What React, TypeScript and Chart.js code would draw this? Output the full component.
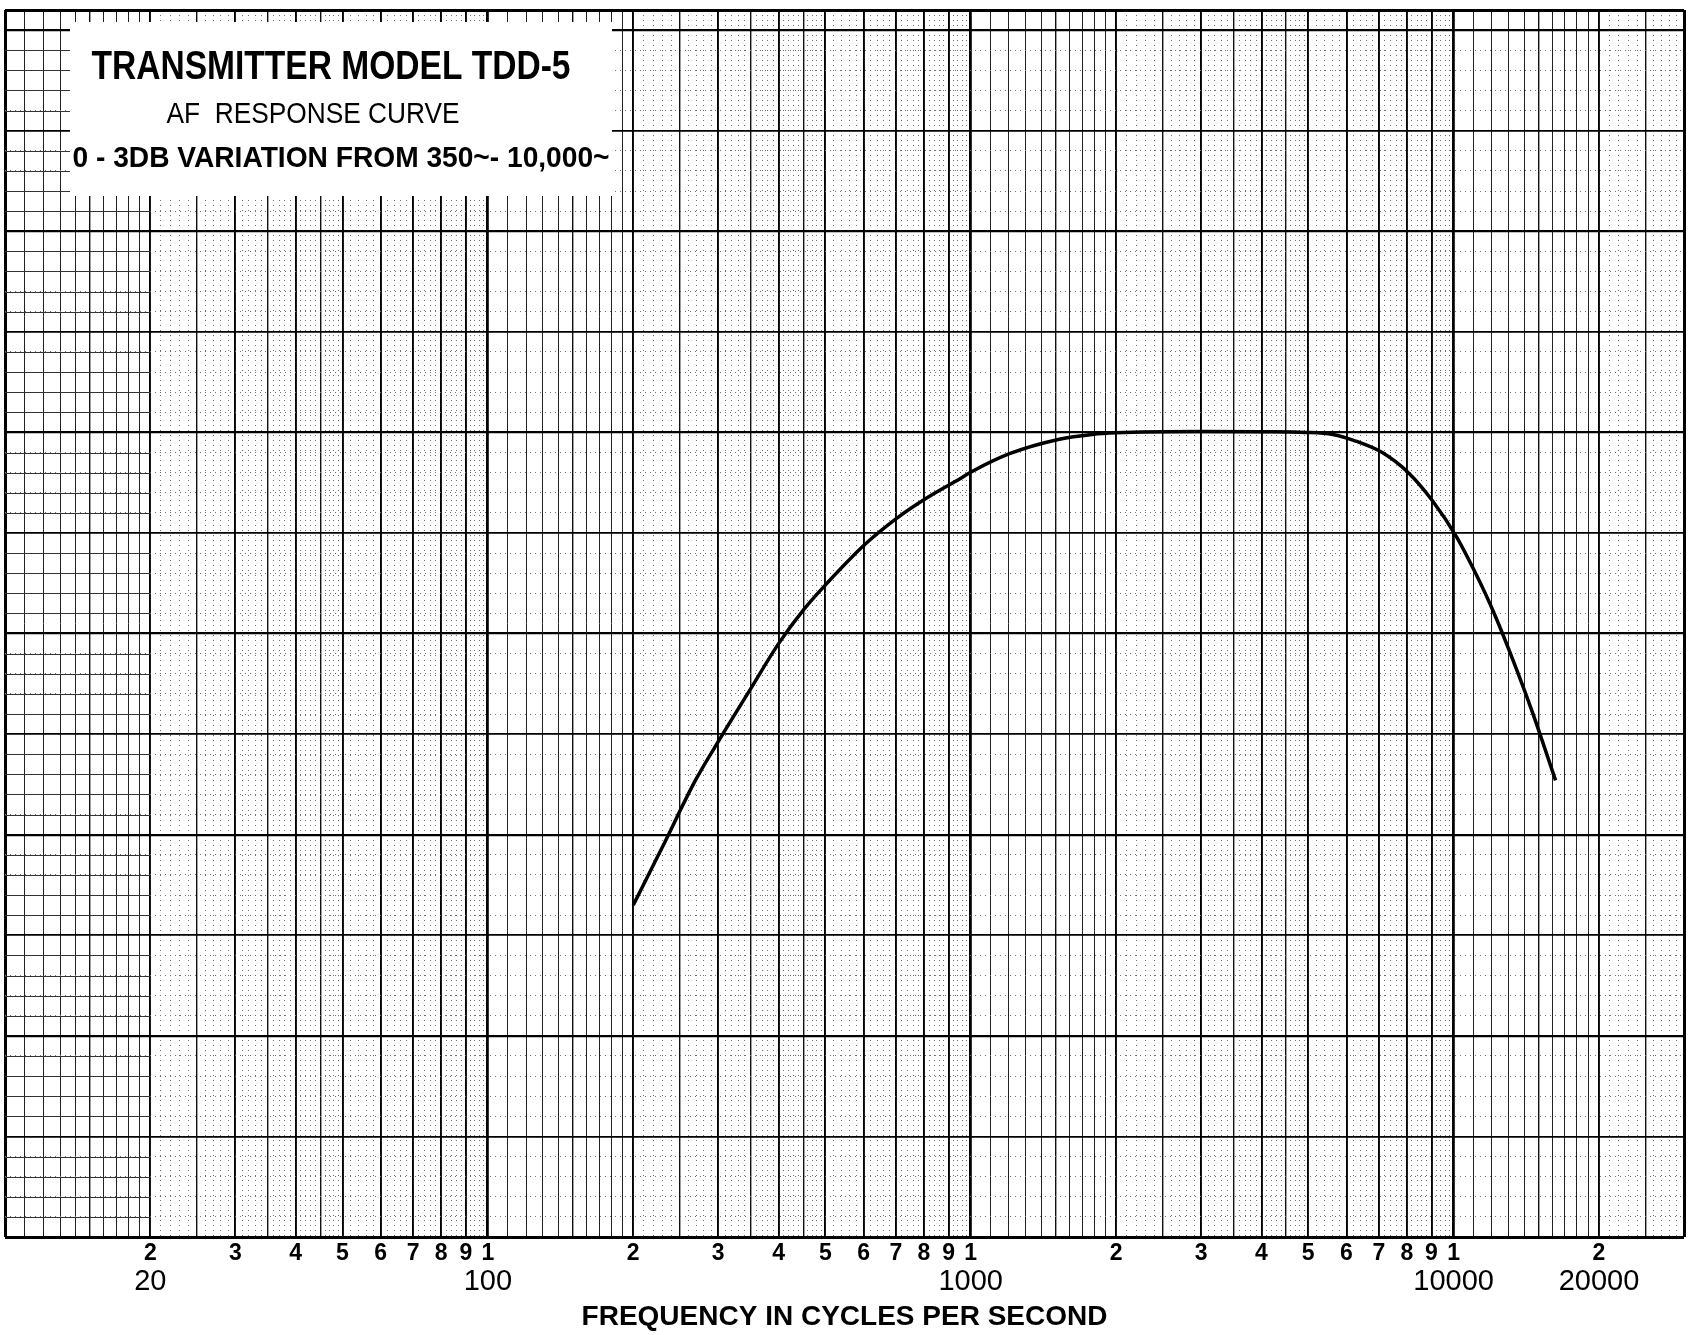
import React, { useEffect, useRef } from 'react';
import { Chart, registerables } from 'chart.js';

Chart.register(...registerables);

// ---- data (relative level in chart divisions) ----
const frequencyHz = [
  200, 230, 269, 303, 349, 400, 453, 506, 605, 709, 812, 950, 1000, 1203, 1526, 1784,
  2000, 3000, 4000, 4955, 5623, 6270, 7115, 8050, 9056, 10140, 11145, 12135, 13525, 14650, 16260,
];
const responseLevel = [
  -23.5, -20.6, -17.3, -15.2, -12.8, -10.5, -8.75, -7.45, -5.55, -4.2, -3.25, -2.3, -1.98, -1.06, -0.34, -0.1,
  -0.02, 0.04, 0.03, 0.0, -0.1, -0.43, -1.0, -1.99, -3.42, -5.19, -7.08, -9.0, -11.83, -14.09, -17.3,
];

// ---- tick labels ----
const decadeDigitLabels = ['2', '3', '4', '5', '6', '7', '8', '9', '1'];
const frequencyValueTicks = [20, 100, 1000, 10000, 20000];
const frequencyValueLabels = ['20', '100', '1000', '10000', '20000'];
const titleLines = [
  'TRANSMITTER MODEL TDD-5',
  'AF  RESPONSE CURVE',
  '0 - 3DB VARIATION FROM 350~- 10,000~',
];
const axisTitle = 'FREQUENCY IN CYCLES PER SECOND';

const X_MIN = 10;
const X_MAX = 30000;
const Y_MIN = -40;
const Y_MAX = 21;

const FONT = '"Liberation Sans", Arial, sans-serif';

// graph-paper vertical rulings (log cycles)
const xGrid: { value: number; k: number }[] = [];
for (let e = 1; e <= 4; e++) {
  const unit = Math.pow(10, e - 1);
  for (let k = 10; k < 100; k += k < 50 ? 1 : 2) {
    const v = k * unit;
    if (v > X_MAX) break;
    xGrid.push({ value: v, k });
  }
}
const kByValue = new Map<number, number>(xGrid.map((g) => [g.value, g.k]));

const DOT = [1, 4];
const DOT_COLOR = '#707070';

function xStyle(v: number) {
  const k = kByValue.get(v) ?? 10;
  if (v === X_MIN || v === X_MAX) return { w: 3, dash: [] as number[], c: '#000' };
  if (k === 10) return { w: 2.8, dash: [] as number[], c: '#000' };
  if (k % 10 === 0) return { w: 1.9, dash: [] as number[], c: '#000' };
  if (k % 5 === 0 && k < 50) return { w: 1.4, dash: [] as number[], c: '#111' };
  if (k < 20) return { w: 1.0, dash: [] as number[], c: '#222' };
  return { w: 1, dash: DOT, c: DOT_COLOR };
}

function yStyle(v: number) {
  if (v === Y_MIN || v === Y_MAX) return { w: 3, dash: [] as number[], c: '#000' };
  if (v % 10 === 0) return { w: 2.2, dash: [] as number[], c: '#000' };
  if (v % 5 === 0) return { w: 1.8, dash: [] as number[], c: '#000' };
  return { w: 1, dash: DOT, c: DOT_COLOR };
}

const paperPlugin = {
  id: 'paper',
  beforeDatasetsDraw(chart: any) {
    const { ctx, chartArea } = chart;
    const xs = chart.scales.x;
    const ys = chart.scales.y;
    ctx.save();
    // the first cycle band (10-20) is ruled solid on this paper
    const x0 = xs.getPixelForValue(10);
    const x1 = xs.getPixelForValue(20);
    ctx.strokeStyle = '#333';
    ctx.lineWidth = 1;
    ctx.setLineDash([]);
    for (let v = Y_MIN + 1; v < Y_MAX; v++) {
      if (v % 5 === 0) continue;
      const y = Math.round(ys.getPixelForValue(v)) + 0.5;
      ctx.beginPath();
      ctx.moveTo(x0, y);
      ctx.lineTo(x1, y);
      ctx.stroke();
    }
    // title panel
    const l = chartArea.left;
    const t = chartArea.top;
    ctx.fillStyle = '#fff';
    ctx.fillRect(l + 65, t + 12, 542, 174);
    ctx.fillStyle = '#000';
    ctx.textAlign = 'center';
    ctx.textBaseline = 'middle';
    ctx.font = `bold 41px ${FONT}`;
    ctx.fillText(titleLines[0], l + 326, t + 58, 479);
    ctx.font = `30px ${FONT}`;
    ctx.fillText(titleLines[1], l + 308, t + 105, 293);
    ctx.font = `bold 30px ${FONT}`;
    ctx.fillText(titleLines[2], l + 336, t + 149, 537);
    ctx.restore();
  },
};

export default function App() {
  const ref = useRef<HTMLCanvasElement>(null);

  useEffect(() => {
    if (!ref.current) return;
    const chart = new Chart(ref.current, {
      type: 'line',
      data: {
        datasets: [
          {
            data: frequencyHz.map((f, i) => ({ x: f, y: responseLevel[i] })),
            xAxisID: 'x',
            yAxisID: 'y',
            borderColor: '#000',
            borderWidth: 3.5,
            pointRadius: 0,
            fill: false,
            cubicInterpolationMode: 'monotone',
          },
        ],
      },
      options: {
        responsive: false,
        animation: false,
        layout: { padding: { left: 5, right: 5, top: 10, bottom: 0 } },
        plugins: {
          legend: { display: false },
          tooltip: { enabled: false },
          title: { display: false },
        },
        scales: {
          x: {
            type: 'logarithmic',
            position: 'bottom',
            weight: 0,
            min: X_MIN,
            max: X_MAX,
            afterBuildTicks: (s: any) => {
              s.ticks = xGrid.map((g) => ({ value: g.value }));
            },
            afterFit: (s: any) => {
              s.height = 26;
            },
            grid: {
              drawTicks: false,
              color: (c: any) => xStyle(c.tick?.value).c,
              lineWidth: (c: any) => xStyle(c.tick?.value).w,
            },
            border: {
              display: false,
              dash: (c: any) => xStyle(c.tick?.value).dash,
            },
            ticks: {
              autoSkip: false,
              maxRotation: 0,
              minRotation: 0,
              padding: 4,
              color: '#000',
              font: { family: FONT, size: 23, weight: 'bold', lineHeight: 1.1 },
              callback: (value: any) => {
                const v = Number(value);
                if (v <= X_MIN || v >= X_MAX) return '';
                const k = kByValue.get(v);
                if (k === undefined || k % 10 !== 0) return '';
                return k === 10 ? decadeDigitLabels[8] : decadeDigitLabels[k / 10 - 2];
              },
            },
          },
          x2: {
            type: 'logarithmic',
            position: 'bottom',
            weight: 1,
            min: X_MIN,
            max: X_MAX,
            afterBuildTicks: (s: any) => {
              s.ticks = frequencyValueTicks.map((v) => ({ value: v }));
            },
            afterFit: (s: any) => {
              s.height = 72;
            },
            grid: { display: false, drawTicks: false },
            border: { display: false },
            ticks: {
              autoSkip: false,
              maxRotation: 0,
              minRotation: 0,
              padding: 4,
              color: '#000',
              font: { family: FONT, size: 29, lineHeight: 1 },
              callback: (value: any) => {
                const i = frequencyValueTicks.indexOf(Number(value));
                return i >= 0 ? frequencyValueLabels[i] : '';
              },
            },
            title: {
              display: true,
              text: axisTitle,
              color: '#000',
              font: { family: FONT, size: 28, weight: 'bold' },
              padding: { top: 0, bottom: 1 },
            },
          },
          y: {
            type: 'linear',
            min: Y_MIN,
            max: Y_MAX,
            afterFit: (s: any) => {
              s.width = 0;
            },
            ticks: { display: false, stepSize: 1 },
            grid: {
              drawTicks: false,
              color: (c: any) => yStyle(c.tick?.value).c,
              lineWidth: (c: any) => yStyle(c.tick?.value).w,
            },
            border: {
              display: false,
              dash: (c: any) => yStyle(c.tick?.value).dash,
            },
          },
        },
      },
      plugins: [paperPlugin],
    } as any);
    return () => chart.destroy();
  }, []);

  return (
    <div style={{ position: 'fixed', left: 0, top: 0, width: 1689, height: 1335, background: '#fff' }}>
      <canvas ref={ref} width={1689} height={1335} />
    </div>
  );
}
